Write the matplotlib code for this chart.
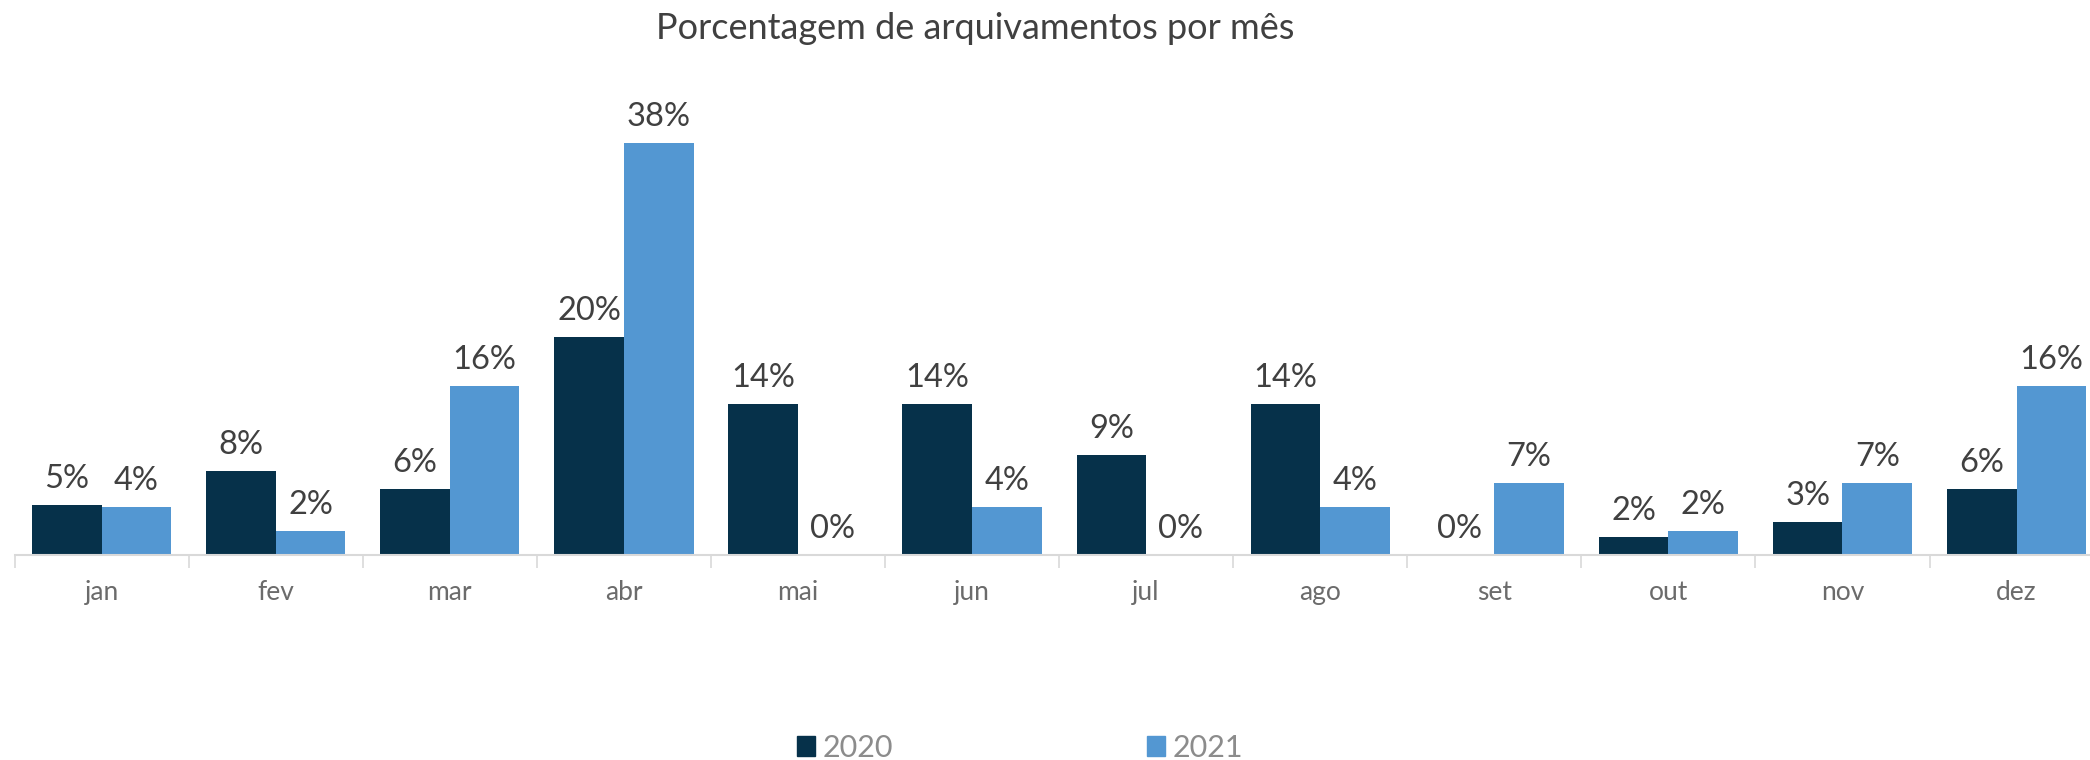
import numpy as np
import matplotlib
matplotlib.use('Agg')
import matplotlib.pyplot as plt
from matplotlib.patches import Patch

months = ['jan', 'fev', 'mar', 'abr', 'mai', 'jun', 'jul', 'ago', 'set', 'out', 'nov', 'dez']
pct_2020 = [4.6, 7.7, 6.1, 20.1, 13.9, 13.9, 9.2, 13.9, 0.0, 1.6, 3.0, 6.1]
pct_2021 = [4.4, 2.2, 15.6, 38.0, 0.0, 4.4, 0.0, 4.4, 6.6, 2.2, 6.6, 15.6]
series_names = ['2020', '2021']

c_dark = '#06314A'
c_blue = '#5397D2'
txt_dark = '#404040'
txt_grey = '#6b6b6b'

plt.rcParams['font.family'] = ['Lato', 'DejaVu Sans']

fig = plt.figure(figsize=(20.9, 7.6), dpi=100)
# plot area runs slightly past the right edge, as in the original
ax = fig.add_axes([0.007, 0.27, 0.9995, 0.5697])

x = np.arange(len(months))
w = 0.4
b1 = ax.bar(x - w / 2, pct_2020, w, color=c_dark)
b2 = ax.bar(x + w / 2, pct_2021, w, color=c_blue)

for bars, vals in ((b1, pct_2020), (b2, pct_2021)):
    for rect, v in zip(bars, vals):
        ax.annotate(f'{v:.0f}%', (rect.get_x() + rect.get_width() / 2, v),
                    xytext=(0, 8), textcoords='offset points',
                    ha='center', va='bottom', fontsize=23.5, color=txt_dark)

ax.set_xlim(-0.5, len(months) - 0.5)
ax.set_ylim(0, 40)
ax.set_yticks([])
ax.set_xticks(x)
ax.set_xticklabels(months, fontsize=19, color=txt_grey)
ax.set_xticks(np.arange(len(months) + 1) - 0.5, minor=True)
ax.tick_params(axis='x', which='major', length=0, pad=18)
ax.tick_params(axis='x', which='minor', length=9, width=1.2, color='#d9d9d9')
for side in ('left', 'right', 'top'):
    ax.spines[side].set_visible(False)
ax.spines['bottom'].set_color('#d9d9d9')
ax.spines['bottom'].set_linewidth(1.5)

fig.text(0.4665, 0.962, 'Porcentagem de arquivamentos por mês', ha='center', va='center',
         fontsize=26, color=txt_dark)

handles = [Patch(color=c_dark), Patch(color=c_blue)]
fig.legend(handles, series_names, loc='center', bbox_to_anchor=(0.488, 0.016), ncol=2,
           frameon=False, handlelength=0.6, handleheight=0.6,
           handletextpad=0.25, columnspacing=8.3, labelcolor='#8c8c8c', prop={'size': 22})

fig.savefig('out.png', dpi=100)
